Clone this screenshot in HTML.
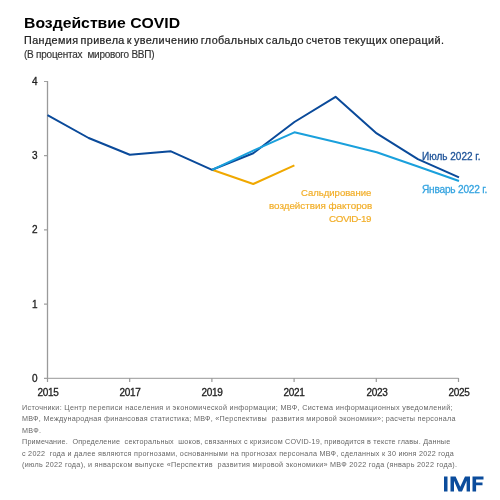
<!DOCTYPE html>
<html><head><meta charset="utf-8">
<style>
html,body{margin:0;padding:0;background:#fff;}
body{width:500px;height:500px;position:relative;overflow:hidden;font-family:"Liberation Sans",sans-serif;}
.t{position:absolute;white-space:pre;line-height:1;will-change:transform;-webkit-text-stroke:0.2px currentColor;}
#title{-webkit-text-stroke:0;left:24px;top:15px;font-size:15.2px;font-weight:bold;color:#000;transform:scaleX(1.038);transform-origin:0 0;}
#sub{left:24px;top:36px;-webkit-text-stroke:0.2px #222;font-size:10px;color:#222;letter-spacing:0.36px;word-spacing:-1.2px;transform:scaleX(1.08);transform-origin:0 0;}
#unit{left:24px;top:49.5px;-webkit-text-stroke:0.15px #333;font-size:10px;color:#333;letter-spacing:-0.23px;}
.yl{font-size:10px;color:#222;-webkit-text-stroke:0.3px #222;}
.xl{font-size:10px;color:#222;-webkit-text-stroke:0.3px #222;width:60px;text-align:center;letter-spacing:-0.3px;}
.fn{left:22px;font-size:7.2px;color:#666;-webkit-text-stroke:0;}
.or{color:#f2ae28;text-align:right;}
</style></head><body>
<div class="t" id="title">Воздействие COVID</div>
<div class="t" id="sub">Пандемия привела к увеличению глобальных сальдо счетов текущих операций.</div>
<div class="t" id="unit">(В процентах  мирового ВВП)</div>

<svg width="500" height="500" style="position:absolute;left:0;top:0">
<g fill="none">
<path d="M47.5 81 V378.5" stroke="#9a9a9a" stroke-width="1.3"/>
<path d="M47.5 378.3 H458.5" stroke="#acacac" stroke-width="1.3"/>
<path d="M44 81.5 H47.5 M44 155.6 H47.5 M44 229.9 H47.5 M44 304.1 H47.5 M44 378.3 H47.5" stroke="#a0a0a0" stroke-width="1.2"/>
<path d="M47.5 378 V382 M129.7 378 V382 M211.9 378 V382 M294.1 378 V382 M376.3 378 V382 M458.5 378 V382" stroke="#999" stroke-width="1.2"/>
</g>
<g fill="none" stroke-width="2" stroke-linejoin="round">
<polyline stroke="#f0a800" points="212.1,169.8 253.25,184 294.4,165.4"/>
<polyline stroke="#0a4a9a" points="47.5,115.2 88.65,138 129.8,154.8 170.95,151.3 212.1,169.8 253.25,153.2 294.4,122 335.55,96.8 376.7,133.4 417.85,159.2 459,177.4"/>
<polyline stroke="#1aa0dc" points="212.1,169.8 253.25,150.6 294.4,132.3 335.55,142 376.7,152.2 417.85,166.5 459,181"/>
</g>
</svg>

<div class="t yl" style="left:32px;top:77px">4</div>
<div class="t yl" style="left:32px;top:151px">3</div>
<div class="t yl" style="left:32px;top:225px">2</div>
<div class="t yl" style="left:32px;top:300px">1</div>
<div class="t yl" style="left:32px;top:374px">0</div>

<div class="t xl" style="left:17.7px;top:388px">2015</div>
<div class="t xl" style="left:99.8px;top:388px">2017</div>
<div class="t xl" style="left:182px;top:388px">2019</div>
<div class="t xl" style="left:264.3px;top:388px">2021</div>
<div class="t xl" style="left:346.5px;top:388px">2023</div>
<div class="t xl" style="left:428.8px;top:388px">2025</div>

<div class="t" style="left:422px;top:152px;font-size:10px;color:#1f5499;-webkit-text-stroke:0.3px #1f5499">Июль 2022 г.</div>
<div class="t" style="left:422px;top:185px;font-size:10.1px;letter-spacing:-0.2px;color:#36a4e0;-webkit-text-stroke:0.3px #36a4e0">Январь 2022 г.</div>

<div class="t or" style="left:301px;top:188px;font-size:9.5px">Сальдирование</div>
<div class="t or" style="left:269px;top:201px;font-size:9.8px;letter-spacing:0px">воздействия факторов</div>
<div class="t or" style="left:329px;top:214px;font-size:9.8px;letter-spacing:-0.4px">COVID-19</div>

<div class="t fn" style="top:404px;letter-spacing:0.33px">Источники: Центр переписи населения и экономической информации; МВФ, Система информационных уведомлений;</div>
<div class="t fn" style="top:415px;letter-spacing:0.289px">МВФ, Международная финансовая статистика; МВФ, «Перспективы  развития мировой экономики»; расчеты персонала</div>
<div class="t fn" style="top:427px;letter-spacing:0.3px">МВФ.</div>
<div class="t fn" style="top:438px;letter-spacing:0.215px">Примечание.  Определение  секторальных  шоков, связанных с кризисом COVID-19, приводится в тексте главы. Данные</div>
<div class="t fn" style="top:450px;letter-spacing:0.267px">с 2022  года и далее являются прогнозами, основанными на прогнозах персонала МВФ, сделанных к 30 июня 2022 года</div>
<div class="t fn" style="top:461px;letter-spacing:0.306px">(июль 2022 года), и январском выпуске «Перспектив  развития мировой экономики» МВФ 2022 года (январь 2022 года).</div>

<svg width="500" height="500" style="position:absolute;left:0;top:0"><g fill="#0b4c9c">
<rect x="444" y="476.5" width="3.5" height="15"/>
<polygon points="450.5,491.5 450.5,476.5 455.6,476.5 460.3,486.8 465,476.5 470,476.5 470,491.5 466.6,491.5 466.6,480.8 462,491.5 458.6,491.5 454,480.8 454,491.5"/>
<polygon points="472.5,491.5 472.5,476.5 483.5,476.5 483.5,479.6 476.1,479.6 476.1,482.4 482.5,482.4 482.5,485.3 476.1,485.3 476.1,491.5"/>
</g></svg>
</body></html>
